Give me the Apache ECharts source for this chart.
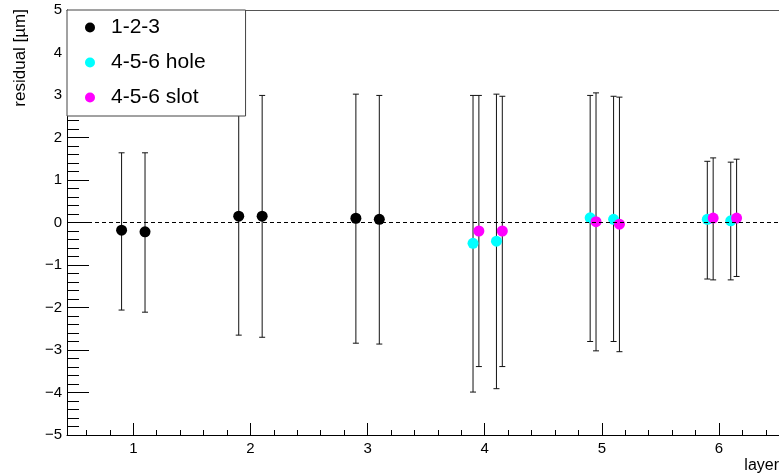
<!DOCTYPE html>
<html>
<head>
<meta charset="utf-8">
<script src="https://cdn.jsdelivr.net/npm/echarts@6/dist/echarts.min.js"></script>
<style>
html,body{margin:0;padding:0;background:#fff;}
#chart{width:779px;height:474px;}
</style>
</head>
<body>
<div id="chart"></div>
<script>
// ---- data ----
const seriesNames = ['1-2-3', '4-5-6 hole', '4-5-6 slot'];

const layer123X  = [0.9, 1.1, 1.9, 2.1, 2.9, 3.1];
const layer123Y  = [-0.18, -0.22, 0.15, 0.15, 0.10, 0.075];
const layer123Lo = [-2.06, -2.11, -2.65, -2.70, -2.84, -2.86];
const layer123Hi = [1.64, 1.64, 2.95, 2.99, 3.02, 2.99];

const holeX  = [3.9, 4.1, 4.9, 5.1, 5.9, 6.1];
const holeY  = [-0.49, -0.44, 0.11, 0.075, 0.075, 0.04];
const holeLo = [-3.99, -3.91, -2.80, -2.80, -1.33, -1.35];
const holeHi = [2.99, 3.02, 2.99, 2.97, 1.44, 1.42];

const slotX  = [3.95, 4.15, 4.95, 5.15, 5.95, 6.15];
const slotY  = [-0.20, -0.20, 0.02, -0.04, 0.105, 0.105];
const slotLo = [-3.39, -3.39, -3.02, -3.04, -1.35, -1.27];
const slotHi = [2.99, 2.97, 3.05, 2.95, 1.52, 1.49];

const xMajorTicks = [1, 2, 3, 4, 5, 6];
const xMinorTicks = [];
for (let i = 3; i <= 32; i++) { if (i % 5 !== 0) xMinorTicks.push(+(i * 0.2).toFixed(1)); }

const X_MIN = 0.434, X_MAX = 6.512;
const FONT = '"Liberation Sans", Arial, Helvetica, sans-serif';

function pts(xs, ys) { return xs.map((x, i) => [x, ys[i]]); }
function bars(xs, lo, hi) { return xs.map((x, i) => [x, lo[i], hi[i]]); }

function errRender(params, api) {
  const x = api.value(0), lo = api.value(1), hi = api.value(2);
  const a = api.coord([x, lo]), b = api.coord([x, hi]);
  const w = 3;
  const st = { stroke: '#111', lineWidth: 1 };
  return {
    type: 'group',
    children: [
      { type: 'line', shape: { x1: a[0], y1: a[1], x2: b[0], y2: b[1] }, style: st },
      { type: 'line', shape: { x1: a[0] - w, y1: a[1], x2: a[0] + w, y2: a[1] }, style: st },
      { type: 'line', shape: { x1: b[0] - w, y1: b[1], x2: b[0] + w, y2: b[1] }, style: st }
    ]
  };
}

function errSeries(data) {
  return {
    type: 'custom', xAxisIndex: 0, yAxisIndex: 0, z: 1, silent: true,
    renderItem: errRender, encode: { x: 0, y: [1, 2] }, data: data
  };
}

function ptSeries(name, color, data, extra) {
  return Object.assign({
    name: name, type: 'scatter', xAxisIndex: 0, yAxisIndex: 0, z: 3,
    symbol: 'circle', symbolSize: 11,
    itemStyle: { color: color, opacity: 1 },
    data: data
  }, extra || {});
}

const chart = echarts.init(document.getElementById('chart'), null, { renderer: 'canvas' });

chart.setOption({
  animation: false,
  backgroundColor: '#fff',
  textStyle: { fontFamily: FONT },
  grid: { left: 67, right: 0, top: 10, bottom: 39, containLabel: false },
  legend: {
    data: seriesNames,
    orient: 'vertical',
    left: 67, top: 10,
    padding: [7, 40, 8, 18],
    itemGap: 14,
    itemWidth: 32, itemHeight: 10,
    icon: 'circle',
    backgroundColor: '#fff',
    borderColor: '#444', borderWidth: 1, borderRadius: 0,
    textStyle: { fontFamily: FONT, fontSize: 21, lineHeight: 21, color: '#000' },
    selectedMode: false
  },
  xAxis: [
    {
      type: 'value', min: X_MIN, max: X_MAX, position: 'bottom',
      axisLine: { show: true, onZero: false, lineStyle: { color: '#000', width: 1 } },
      axisTick: { show: true, inside: true, length: 12, customValues: xMajorTicks, lineStyle: { color: '#000' } },
      axisLabel: { show: true, customValues: xMajorTicks, margin: 6, fontSize: 15, fontFamily: FONT, color: '#000' },
      splitLine: { show: false }
    },
    {
      type: 'value', min: X_MIN, max: X_MAX, position: 'bottom',
      axisLine: { show: false, onZero: false },
      axisTick: { show: true, inside: true, length: 5, customValues: xMinorTicks, lineStyle: { color: '#000' } },
      axisLabel: { show: false },
      splitLine: { show: false }
    },
    {
      type: 'value', min: X_MIN, max: X_MAX, position: 'top',
      axisLine: { show: true, onZero: false, lineStyle: { color: '#555', width: 1 } },
      axisTick: { show: false }, axisLabel: { show: false }, splitLine: { show: false }
    }
  ],
  yAxis: {
    type: 'value', min: -5, max: 5, interval: 1,
    axisLine: { show: true, onZero: false, lineStyle: { color: '#000', width: 1 } },
    axisTick: { show: true, inside: true, length: 22, lineStyle: { color: '#000' } },
    minorTick: { show: true, splitNumber: 5, length: 12, lineStyle: { color: '#000' } },
    axisLabel: {
      margin: 5, fontSize: 15, fontFamily: FONT, color: '#000',
      formatter: v => (v < 0 ? '\u2212' + Math.abs(v) : String(v))
    },
    splitLine: { show: false }
  },
  graphic: [
    {
      type: 'text', x: 20, y: 9, rotation: Math.PI / 2,
      style: { text: 'residual [\u00b5m]', font: '17px ' + FONT, fill: '#000', align: 'right', verticalAlign: 'middle' }
    },
    {
      type: 'text', x: 779, y: 458,
      style: { text: 'layer', font: '16px ' + FONT, fill: '#000', align: 'right', verticalAlign: 'top' }
    }
  ],
  series: [
    errSeries(bars(layer123X, layer123Lo, layer123Hi)),
    errSeries(bars(holeX, holeLo, holeHi)),
    errSeries(bars(slotX, slotLo, slotHi)),
    ptSeries(seriesNames[0], '#000000', pts(layer123X, layer123Y), {
      markLine: {
        silent: true, symbol: 'none', label: { show: false },
        lineStyle: { color: '#000', width: 1, type: [4, 3] },
        data: [{ yAxis: 0 }]
      }
    }),
    ptSeries(seriesNames[1], '#00ffff', pts(holeX, holeY)),
    ptSeries(seriesNames[2], '#ff00ff', pts(slotX, slotY))
  ]
});
</script>
</body>
</html>
